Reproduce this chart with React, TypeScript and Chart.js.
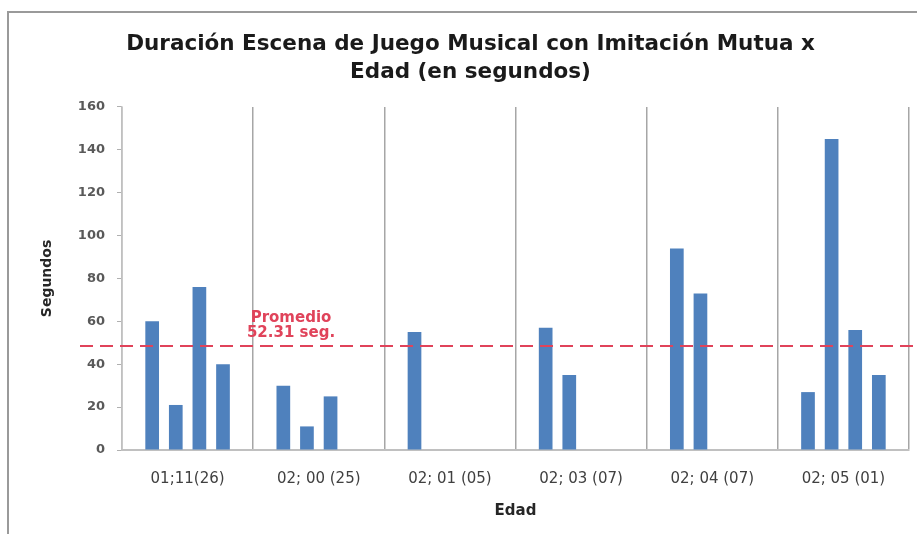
import { useEffect, useRef } from "react";
import { Chart, registerables } from "chart.js";

Chart.register(...registerables);

const TITLE_LINES = ["Duración Escena de Juego Musical con Imitación Mutua x", "Edad (en segundos)"];
const CATEGORIES = ["01;11(26)", "02; 00 (25)", "02; 01 (05)", "02; 03 (07)", "02; 04 (07)", "02; 05 (01)"];
const SERIES_1 = [60, 30, 55, 57, 94, 27];
const SERIES_2 = [21, 11, null, 35, 73, 145];
const SERIES_3 = [76, 25, null, null, null, 56];
const SERIES_4 = [40, null, null, null, null, 35];
const Y_MIN = 0;
const Y_MAX = 160;
const Y_STEP = 20;
const AVERAGE_LINE_VALUE = 48.5;
const AVERAGE_LABEL = ["Promedio", "52.31 seg."];
const X_TITLE = "Edad";
const Y_TITLE = "Segundos";

const BAR_COLOR = "#4F81BD";
const RED = "#E0435A";

export default function App() {
  const ref = useRef<HTMLCanvasElement>(null);

  useEffect(() => {
    const canvas = ref.current;
    if (!canvas) return;

    const decor = {
      id: "decor",
      beforeDraw(chart: any) {
        const { ctx } = chart;
        ctx.save();
        ctx.fillStyle = "#ffffff";
        ctx.fillRect(0, 0, chart.width, chart.height);
        ctx.strokeStyle = "#9a9a9a";
        ctx.lineWidth = 2;
        ctx.beginPath();
        ctx.moveTo(8, chart.height);
        ctx.lineTo(8, 12);
        ctx.lineTo(chart.width, 12);
        ctx.stroke();
        ctx.restore();
      },
      afterDatasetsDraw(chart: any) {
        const { ctx, chartArea } = chart;
        const y = chart.scales.y.getPixelForValue(AVERAGE_LINE_VALUE);
        ctx.save();
        ctx.strokeStyle = RED;
        ctx.lineWidth = 2.2;
        ctx.setLineDash([13, 7]);
        ctx.beginPath();
        ctx.moveTo(chartArea.left - 42, y);
        ctx.lineTo(chart.width - 2, y);
        ctx.stroke();
        ctx.setLineDash([]);
        ctx.fillStyle = RED;
        ctx.font = "bold 15px 'DejaVu Sans'";
        ctx.textAlign = "center";
        ctx.textBaseline = "middle";
        const lx = chartArea.left + 169;
        ctx.fillText(AVERAGE_LABEL[0], lx, y - 28);
        ctx.fillText(AVERAGE_LABEL[1], lx, y - 13);
        ctx.restore();
      },
    };

    const mk = (data: (number | null)[], label: string) => ({
      label,
      data,
      backgroundColor: BAR_COLOR,
      borderWidth: 0,
      categoryPercentage: 0.72,
      barPercentage: 0.58,
    });

    const chart = new Chart(canvas, {
      type: "bar",
      data: {
        labels: CATEGORIES,
        datasets: [mk(SERIES_1, "1"), mk(SERIES_2, "2"), mk(SERIES_3, "3"), mk(SERIES_4, "4")],
      },
      options: {
        responsive: false,
        animation: false,
        devicePixelRatio: 1,
        layout: { padding: { left: 32, right: 8, top: 0, bottom: 0 } },
        plugins: {
          legend: { display: false },
          tooltip: { enabled: false },
          title: {
            display: true,
            text: TITLE_LINES,
            color: "#1a1a1a",
            font: { family: "'DejaVu Sans'", size: 21.5, weight: "bold", lineHeight: 1.3 },
            padding: { top: 30, bottom: 21 },
          },
        },
        scales: {
          x: {
            afterFit: (s: any) => {
              s.height = 84;
            },
            grid: {
              display: true,
              offset: true,
              drawOnChartArea: true,
              drawTicks: false,
              color: "#a6a6a6",
              lineWidth: 1.5,
            },
            border: { display: true, color: "#c0c0c0", width: 2 },
            ticks: {
              color: "#404040",
              font: { family: "'DejaVu Sans'", size: 15 },
              padding: 20,
              maxRotation: 0,
              autoSkip: false,
            },
            title: {
              display: true,
              text: X_TITLE,
              color: "#262626",
              font: { family: "'DejaVu Sans'", size: 15, weight: "bold" },
              padding: { top: 0, bottom: 14 },
            },
          },
          y: {
            min: Y_MIN,
            max: Y_MAX,
            afterFit: (s: any) => {
              s.width = 90;
            },
            grid: {
              display: true,
              drawOnChartArea: false,
              drawTicks: true,
              tickLength: 5,
              color: "#b0b0b0",
              lineWidth: 1,
            },
            border: { display: true, color: "#c0c0c0", width: 1.5 },
            ticks: {
              stepSize: Y_STEP,
              color: "#595959",
              font: { family: "'DejaVu Sans'", size: 13, weight: "bold" },
              padding: 12,
            },
            title: {
              display: true,
              text: Y_TITLE,
              color: "#262626",
              font: { family: "'DejaVu Sans'", size: 14, weight: "bold" },
              padding: { top: 7, bottom: 0 },
            },
          },
        },
      },
      plugins: [decor],
    } as any);

    return () => chart.destroy();
  }, []);

  return (
    <div style={{ position: "fixed", left: 0, top: 0, width: 917, height: 534, background: "#fff" }}>
      <canvas ref={ref} width={917} height={534} style={{ display: "block", width: 917, height: 534 }} />
    </div>
  );
}
